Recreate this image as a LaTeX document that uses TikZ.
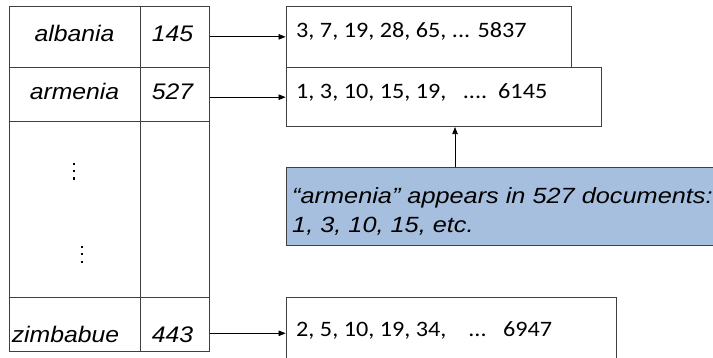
\documentclass[tikz,border=0pt]{standalone}
\usepackage{fontspec}
\setmainfont{Liberation Sans}[FakeStretch=1.1]
\newfontfamily\notefont{Liberation Sans}[FakeStretch=1.15]
\newfontfamily\listfont{Carlito}[FakeStretch=1.1]
\usetikzlibrary{arrows.meta}
\definecolor{edgegrey}{HTML}{404040}
\definecolor{notefill}{RGB}{167,191,222}
\tikzset{
  cell/.style={draw=edgegrey, line width=0.8pt, inner sep=0pt, rectangle},
  listbox/.style={draw=edgegrey, line width=0.8pt, fill=white, inner sep=0pt, rectangle},
  termtext/.style={font=\fontsize{22.5}{26}\selectfont\itshape, inner sep=0pt, anchor=base},
  listtext/.style={font=\listfont\fontsize{22}{26}\selectfont, inner sep=0pt, anchor=base west},
  notetext/.style={font=\notefont\fontsize{22}{29}\selectfont\itshape, inner sep=0pt, anchor=base west},
  ptr/.style={draw=black, line width=0.7pt, -{Triangle[length=7pt,width=5.5pt]}},
  vdot/.style={fill=black, inner sep=0pt, minimum size=2.3pt, rectangle}
}
\begin{document}
\begin{tikzpicture}[x=1pt,y=-1pt]
\useasboundingbox (0,0) rectangle (713,358);

% dictionary table: term column and document-frequency column
\node[cell, minimum width=131pt, minimum height=61.7pt] (c11) at (74.5,36.85) {};
\node[cell, minimum width=69.3pt, minimum height=61.7pt] (c12) at (174.65,36.85) {};
\node[cell, minimum width=131pt, minimum height=53.3pt] (c21) at (74.5,94.35) {};
\node[cell, minimum width=69.3pt, minimum height=53.3pt] (c22) at (174.65,94.35) {};
\node[cell, minimum width=131pt, minimum height=176.7pt] (c31) at (74.5,209.35) {};
\node[cell, minimum width=69.3pt, minimum height=176.7pt] (c32) at (174.65,209.35) {};
\node[cell, minimum width=131pt, minimum height=54pt] (c41) at (74.5,324.7) {};
\node[cell, minimum width=69.3pt, minimum height=54pt] (c42) at (174.65,324.7) {};

\node[termtext] (t11) at (74.5,41.7) {albania};
\node[termtext] (t12) at (172.5,41.7) {145};
\node[termtext] (t21) at (74.5,100) {armenia};
\node[termtext] (t22) at (172.5,100) {527};
\node[termtext] (t41) at (65.5,343) {zimbabue};
\node[termtext] (t42) at (172.5,343) {443};

% elided rows
\foreach \yy in {164,171.3,178.6} \node[vdot] at (74,\yy) {};
\foreach \yy in {246.7,254.2,261.7} \node[vdot] at (82,\yy) {};

% postings lists
\node[listbox, minimum width=285.7pt, minimum height=61.7pt] (b1) at (428.85,36.85) {};
\node[listbox, minimum width=315.7pt, minimum height=59pt] (b2) at (443.85,97.2) {};
\node[listbox, minimum width=330.7pt, minimum height=71.2pt] (b3) at (451.35,333.3) {};

\node[listtext] (l1) at (296,37.3) {3, 7, 19, 28, 65, ... 5837};
\node[listtext] (l2) at (296,99) {1, 3, 10, 15, 19,\ \ \ ....\ \ 6145};
\node[listtext] (l3) at (296,336.7) {2, 5, 10, 19, 34,\ \ \ \ ...\ \ \ 6947};

% explanatory note
\node[draw=edgegrey, line width=0.8pt, fill=notefill, inner sep=0pt, rectangle,
      minimum width=444pt, minimum height=77.5pt] (note) at (508,206.25) {};
\node[notetext] (n1) at (292,204) {“armenia” appears in 527 documents:};
\node[notetext] (n2) at (292,233) {1, 3, 10, 15, etc.};

% pointers
\draw[ptr] (c12.east) -- (b1.west);
\draw[ptr] (c22.east |- b2.west) -- (b2.west);
\draw[ptr] (c42.east |- b3.west) -- (b3.west);
\coordinate (upx) at (455,0);
\draw[ptr] (note.north -| upx) -- (b2.south -| upx);
\end{tikzpicture}
\end{document}
